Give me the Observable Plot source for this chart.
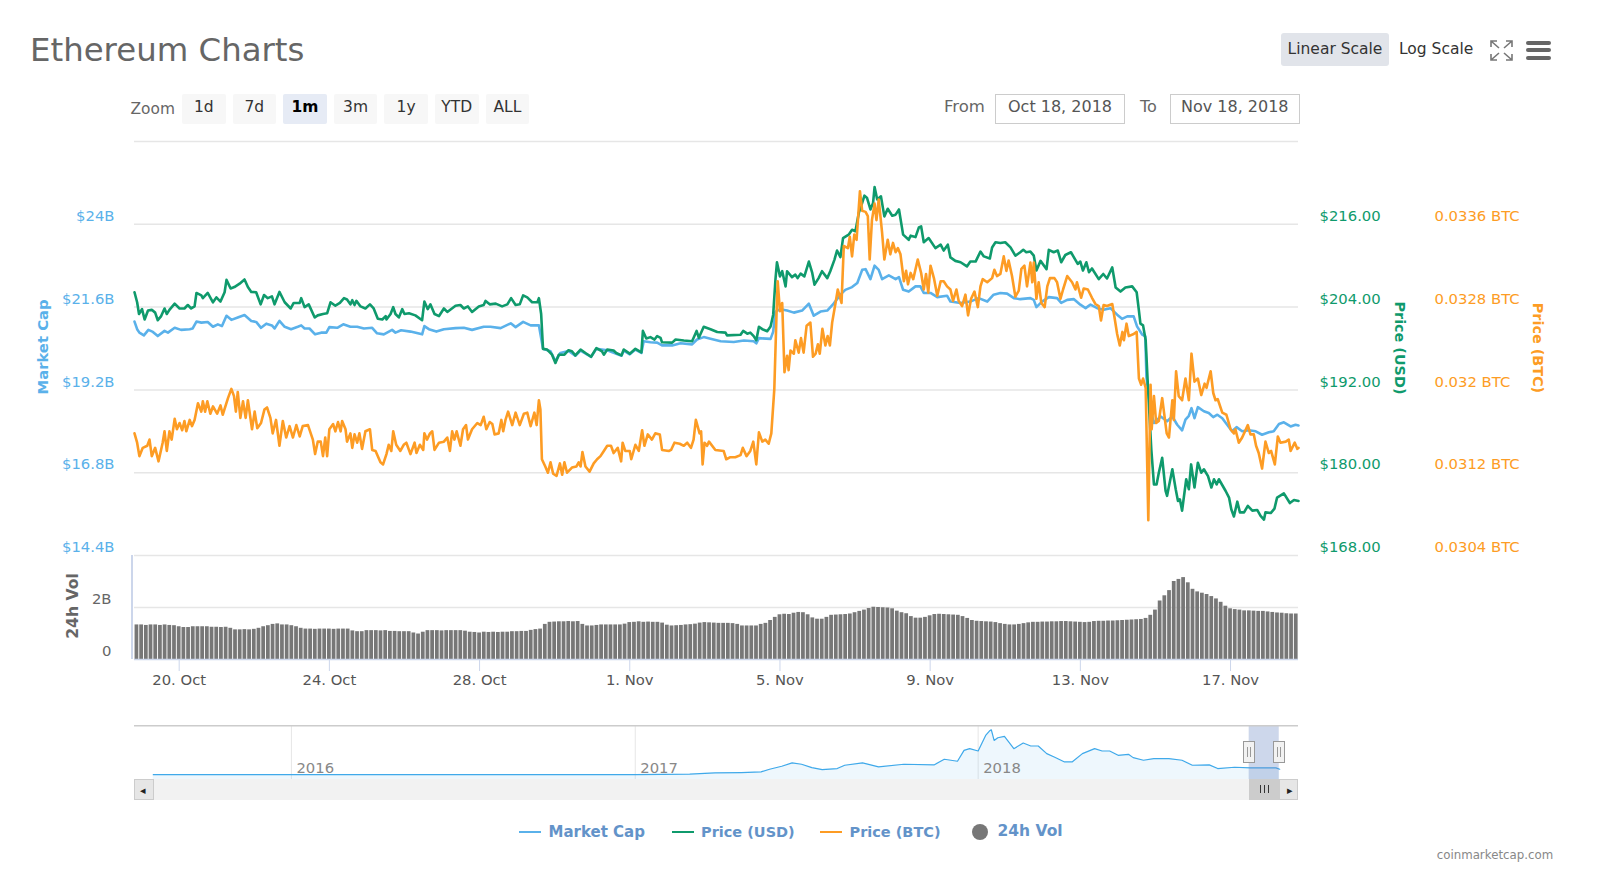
<!DOCTYPE html>
<html><head><meta charset="utf-8">
<script src="https://cdn.jsdelivr.net/npm/d3@7"></script>
<script src="https://cdn.jsdelivr.net/npm/@observablehq/plot@0.6"></script>
<style>
html,body{margin:0;padding:0;background:#fff;width:1600px;height:879px;overflow:hidden;font-family:"DejaVu Sans",sans-serif}
#c{position:relative;width:1600px;height:879px}
#c svg{position:absolute;left:0;top:0;background:transparent;overflow:visible}
.t{position:absolute;white-space:nowrap;line-height:1}
.b{position:absolute;box-sizing:border-box;text-align:center}
.r{position:absolute;box-sizing:border-box}
</style></head><body><div id="c"></div>
<script>
// [days since 18 Oct 2018, value]
const marketCapB=[[.81,21.18],[.88,20.96],[.94,20.86],[1.06,20.78],[1.18,20.94],[1.3,20.88],[1.43,20.76],[1.61,20.91],[1.7,20.86],[1.88,21],[2.05,20.94],[2.28,20.96],[2.36,20.98],[2.46,21.18],[2.59,21.15],[2.76,21.17],[2.9,21.03],[3.03,21.1],[3.14,21.05],[3.26,21.35],[3.39,21.23],[3.56,21.3],[3.74,21.37],[3.92,21.2],[4.05,21.17],[4.18,21],[4.32,21.12],[4.47,21.07],[4.54,20.98],[4.67,21.2],[4.81,21.03],[4.98,20.96],[5.16,21.03],[5.25,21.07],[5.34,20.98],[5.47,20.98],[5.62,20.81],[5.78,20.86],[5.92,20.86],[6,21.02],[6.21,21],[6.37,21.1],[6.56,21.03],[6.74,21.03],[6.92,20.98],[7.14,21],[7.27,20.84],[7.45,20.81],[7.67,20.94],[7.76,20.86],[7.91,20.93],[8.16,20.89],[8.47,20.81],[8.53,21.05],[8.65,20.96],[8.85,20.89],[9.05,20.96],[9.36,20.99],[9.58,21],[9.8,20.94],[10.11,21.03],[10.29,21.03],[10.56,20.99],[10.83,21.13],[10.96,21.02],[11.16,21.17],[11.36,21.07],[11.58,21.07],[11.69,20.39],[11.89,20.32],[12.02,20.03],[12.15,20.27],[12.37,20.33],[12.55,20.19],[12.69,20.34],[12.97,20.16],[13.11,20.39],[13.4,20.35],[13.78,20.19],[13.84,20.34],[14,20.23],[14.15,20.37],[14.31,20.27],[14.37,20.61],[14.55,20.58],[14.73,20.57],[14.86,20.49],[15.13,20.49],[15.35,20.55],[15.66,20.52],[15.79,20.66],[15.97,20.73],[16.15,20.68],[16.42,20.61],[16.77,20.59],[17.04,20.63],[17.3,20.61],[17.37,20.55],[17.44,20.7],[17.75,20.68],[17.82,20.89],[17.88,21.47],[18.01,21.54],[18.19,21.5],[18.37,21.44],[18.59,21.5],[18.77,21.7],[18.9,21.35],[19.08,21.47],[19.26,21.5],[19.43,21.7],[19.61,21.96],[19.74,22.1],[19.92,22.18],[20.06,22.3],[20.19,22.68],[20.28,22.7],[20.41,22.41],[20.52,22.8],[20.63,22.68],[20.72,22.41],[20.9,22.52],[21.08,22.41],[21.17,22.47],[21.28,22.1],[21.43,22.05],[21.61,22.2],[21.74,22.2],[21.83,22.01],[22.01,22.01],[22.19,21.89],[22.45,21.93],[22.54,21.76],[22.81,21.72],[23.07,21.76],[23.29,21.86],[23.52,21.76],[23.69,21.96],[23.87,22.01],[24.05,21.99],[24.23,21.86],[24.4,21.83],[24.67,21.86],[24.76,21.81],[24.83,21.6],[24.98,21.76],[25.16,21.89],[25.38,21.86],[25.49,21.72],[25.65,21.81],[25.83,21.83],[26,21.67],[26.14,21.57],[26.27,21.67],[26.45,21.57],[26.62,21.52],[26.8,21.57],[26.98,21.38],[27.11,21.26],[27.25,21.33],[27.42,21.33],[27.51,21.04],[27.65,20.8],[27.73,20.75],[27.76,19.58],[27.87,18.62],[27.96,18.24],[28.14,18.43],[28.31,18.29],[28.45,18.43],[28.58,18.19],[28.71,18.03],[28.8,18.34],[28.89,18.45],[28.96,18.67],[29.04,18.38],[29.13,18.7],[29.29,18.58],[29.42,18.53],[29.54,18.41],[29.65,18.48],[29.78,18.38],[29.91,18.19],[30.04,18],[30.16,18.12],[30.31,18],[30.49,18.03],[30.67,18],[30.84,17.9],[31.02,17.97],[31.15,18],[31.29,18.21],[31.42,18.26],[31.6,18.14],[31.73,18.19],[31.81,18.17]];
const priceUsd=[[.81,206.15],[.88,204.7],[.93,203],[1.01,203.7],[1.08,202.2],[1.17,203.5],[1.27,203.6],[1.36,203.2],[1.43,202.1],[1.52,202.7],[1.61,203.8],[1.67,203],[1.74,203.6],[1.88,204.5],[2.01,203.8],[2.14,203.8],[2.23,204.3],[2.32,203.8],[2.41,204.1],[2.46,206.05],[2.59,205.7],[2.63,205.3],[2.76,206.05],[2.9,204.7],[2.99,205.4],[3.1,204.8],[3.21,206.15],[3.26,207.95],[3.37,206.7],[3.47,206.9],[3.61,207.4],[3.74,208],[3.83,206.9],[3.92,206.2],[4.05,206.15],[4.17,204.4],[4.26,205.75],[4.36,205.3],[4.47,205.55],[4.54,204.4],[4.67,206.2],[4.81,204.7],[4.97,203.8],[5.05,204.6],[5.21,204.6],[5.25,205.3],[5.34,204],[5.45,204.4],[5.61,202.5],[5.69,202.8],[5.83,203],[5.94,203.1],[6.03,204.7],[6.16,204.2],[6.28,204.6],[6.39,205.3],[6.47,205.1],[6.56,204.4],[6.61,205],[6.67,204.3],[6.72,204.9],[6.83,204.1],[6.96,203.8],[7.08,204.4],[7.18,203.8],[7.29,202.3],[7.41,202.2],[7.5,202.7],[7.52,202.2],[7.63,203],[7.7,204],[7.76,203],[7.85,202.5],[7.94,203.7],[8,203],[8.12,203.1],[8.29,202.8],[8.47,202.1],[8.53,204.8],[8.62,203.7],[8.69,204.4],[8.8,203],[8.92,202.7],[9.05,203.8],[9.14,203.3],[9.36,204.2],[9.49,204.3],[9.58,203.8],[9.69,204.1],[9.8,203.3],[9.98,204.1],[10.11,204.3],[10.16,204.9],[10.27,204.4],[10.43,204.5],[10.6,204.1],[10.74,204.4],[10.84,205.3],[10.96,204.3],[11.07,204.4],[11.16,205.7],[11.27,205.4],[11.4,204.7],[11.54,204.7],[11.58,205.3],[11.64,203],[11.69,197.95],[11.8,197.85],[11.93,197.1],[12.02,195.9],[12.11,197.1],[12.26,197.1],[12.37,197.75],[12.46,197.6],[12.55,197],[12.69,197.85],[12.82,197.35],[12.97,196.8],[13.11,198.05],[13.26,197.6],[13.31,197.1],[13.4,197.85],[13.57,197.7],[13.64,197.35],[13.78,197],[13.84,197.85],[14,197.25],[14.15,197.95],[14.31,197.45],[14.35,200.55],[14.44,199.45],[14.55,199.65],[14.66,199.3],[14.73,199.8],[14.82,199.55],[14.86,198.9],[15.13,198.85],[15.22,199.3],[15.44,199.15],[15.66,199.05],[15.78,200.55],[15.84,199.55],[15.97,201.15],[16.15,200.8],[16.33,200.4],[16.55,200.3],[16.59,199.9],[16.95,200],[17.02,200.55],[17.13,200.15],[17.21,200.3],[17.3,199.8],[17.37,199.2],[17.44,201.15],[17.53,200.8],[17.66,200.5],[17.75,201.2],[17.82,202.9],[17.88,208],[17.92,210.5],[18,208.45],[18.06,209.2],[18.15,207],[18.19,209.2],[18.32,208.35],[18.41,208.7],[18.47,208.2],[18.55,208.85],[18.65,208.45],[18.77,210.6],[18.86,208.95],[18.92,207.25],[19.03,208.2],[19.12,209.2],[19.26,208.2],[19.34,209.2],[19.45,210.85],[19.52,212.2],[19.61,211.25],[19.68,214],[19.83,214.5],[19.92,215.2],[20.01,215],[20.1,217.65],[20.19,219.1],[20.25,220.15],[20.32,219.8],[20.41,218.15],[20.48,219.1],[20.52,221.4],[20.59,219.6],[20.69,220.05],[20.78,217.15],[20.87,218.25],[20.99,217.25],[21.08,217.4],[21.17,218.15],[21.28,214.5],[21.43,213.75],[21.48,214.35],[21.61,214.15],[21.7,215.55],[21.76,215.7],[21.83,213.4],[21.96,214],[22.14,212.55],[22.28,213.05],[22.36,212.2],[22.47,213.05],[22.54,211.2],[22.67,210.7],[22.81,210.5],[22.98,209.9],[23.07,210.6],[23.21,210.6],[23.34,212.05],[23.43,211.35],[23.59,211.05],[23.65,212.65],[23.74,213.4],[23.87,213.3],[24,213.4],[24.14,212.65],[24.27,211.45],[24.4,211.95],[24.48,212.3],[24.56,211.95],[24.67,212.05],[24.76,211.45],[24.83,209.3],[24.94,210.7],[25.1,209.5],[25.16,212.3],[25.29,211.95],[25.4,212.2],[25.49,210.5],[25.6,211.55],[25.75,211.95],[25.93,210.25],[26,210.6],[26.07,209.3],[26.16,210.5],[26.23,209.05],[26.31,209.6],[26.49,208.05],[26.61,208.8],[26.71,208.15],[26.85,209.75],[26.94,206.85],[27.07,206.25],[27.2,206.85],[27.38,207],[27.5,206.15],[27.56,203.5],[27.6,201.6],[27.67,201.35],[27.74,199.2],[27.8,192.5],[27.89,183.35],[27.96,178.3],[28.03,178.3],[28.09,180],[28.18,182.15],[28.27,177.35],[28.31,176.65],[28.45,180.5],[28.54,177.6],[28.6,175.9],[28.65,176.15],[28.71,174.5],[28.82,179.05],[28.89,177.6],[28.95,181.2],[29.04,177.85],[29.13,181.45],[29.22,180],[29.29,180.5],[29.4,179.5],[29.49,177.85],[29.56,179.05],[29.63,178.3],[29.69,179.05],[29.87,177.35],[29.96,176.4],[30.02,174.7],[30.09,173.65],[30.18,175.8],[30.25,174.25],[30.36,174.25],[30.46,175.2],[30.58,174.5],[30.71,174.6],[30.8,173.75],[30.89,173.2],[30.93,174.25],[31.07,174.15],[31.17,174.8],[31.24,176.4],[31.42,177],[31.58,175.6],[31.69,176.05],[31.81,175.9]];
const priceBtc=[[.81,.03158],[.88,.03149],[.94,.03136],[1.03,.03144],[1.15,.03146],[1.21,.03152],[1.27,.03136],[1.36,.03144],[1.45,.03131],[1.56,.03149],[1.61,.0316],[1.67,.03141],[1.74,.0316],[1.8,.03152],[1.88,.03172],[1.94,.03162],[2.01,.03168],[2.08,.03161],[2.14,.0317],[2.19,.0316],[2.28,.03171],[2.34,.03165],[2.41,.03171],[2.5,.03187],[2.59,.03179],[2.63,.03189],[2.69,.03179],[2.75,.03189],[2.83,.03177],[2.9,.03184],[3.01,.03177],[3.1,.03185],[3.16,.03176],[3.3,.03192],[3.39,.03201],[3.46,.03194],[3.51,.03179],[3.56,.03198],[3.63,.03173],[3.7,.03189],[3.77,.03173],[3.83,.0319],[3.94,.03162],[4.01,.03179],[4.08,.03163],[4.18,.03168],[4.27,.03181],[4.34,.03183],[4.43,.03173],[4.49,.03158],[4.58,.03171],[4.67,.03146],[4.76,.0317],[4.85,.03154],[4.94,.03165],[5.03,.03154],[5.12,.03166],[5.21,.03155],[5.29,.03165],[5.43,.03166],[5.56,.03152],[5.62,.03138],[5.69,.0315],[5.77,.0315],[5.83,.03136],[5.89,.03154],[5.94,.03136],[6,.03162],[6.1,.03167],[6.16,.0316],[6.23,.03169],[6.3,.0316],[6.34,.0317],[6.43,.03162],[6.47,.0315],[6.56,.03158],[6.61,.03144],[6.67,.03157],[6.74,.03149],[6.8,.03158],[6.87,.03143],[6.96,.0316],[7.08,.03162],[7.14,.03142],[7.23,.03141],[7.36,.0313],[7.43,.03128],[7.52,.03138],[7.58,.03147],[7.65,.03141],[7.7,.0316],[7.78,.03147],[7.89,.03141],[7.98,.03147],[8.05,.03149],[8.16,.03138],[8.27,.03149],[8.32,.03139],[8.41,.03147],[8.5,.03142],[8.53,.03158],[8.6,.03152],[8.68,.03158],[8.74,.0316],[8.8,.03142],[8.92,.03149],[9.05,.0315],[9.14,.03154],[9.21,.03141],[9.27,.0316],[9.33,.03152],[9.39,.0316],[9.49,.03146],[9.56,.03162],[9.64,.03166],[9.69,.03152],[9.8,.03162],[9.94,.03168],[10.03,.03166],[10.11,.03174],[10.18,.03162],[10.27,.03169],[10.34,.03167],[10.4,.03157],[10.51,.03158],[10.58,.03171],[10.63,.0316],[10.69,.03171],[10.76,.03179],[10.87,.03166],[10.96,.03178],[11.07,.03166],[11.18,.03177],[11.27,.03178],[11.36,.03165],[11.46,.03178],[11.52,.03166],[11.58,.0319],[11.62,.03181],[11.66,.03133],[11.75,.03126],[11.82,.0312],[11.89,.0313],[11.96,.03119],[12.05,.03117],[12.14,.03129],[12.2,.03118],[12.26,.0313],[12.33,.0312],[12.46,.03125],[12.58,.03126],[12.64,.0313],[12.69,.03126],[12.74,.0314],[12.82,.03126],[12.93,.03121],[13.04,.03129],[13.13,.03133],[13.22,.03136],[13.31,.03141],[13.4,.03146],[13.5,.03146],[13.57,.03139],[13.68,.03144],[13.77,.03131],[13.81,.03149],[13.88,.03141],[14,.03141],[14.04,.03133],[14.15,.03147],[14.24,.03141],[14.33,.03161],[14.39,.03146],[14.48,.03157],[14.59,.03152],[14.68,.03158],[14.8,.03157],[14.86,.03142],[15.04,.03141],[15.1,.03142],[15.19,.03149],[15.33,.03148],[15.44,.03146],[15.53,.03149],[15.63,.03144],[15.7,.03152],[15.76,.03171],[15.86,.03158],[15.9,.0316],[15.94,.03128],[15.99,.03149],[16.06,.03146],[16.11,.0315],[16.28,.03142],[16.5,.03141],[16.57,.03133],[16.68,.03135],[16.81,.03135],[16.95,.03137],[17.01,.03144],[17.11,.03136],[17.21,.03141],[17.29,.0315],[17.37,.03128],[17.44,.03159],[17.53,.0315],[17.61,.03152],[17.7,.03148],[17.77,.03158],[17.85,.03201],[17.91,.03275],[17.94,.03305],[18,.03276],[18.06,.03284],[18.12,.03217],[18.19,.03233],[18.23,.03219],[18.28,.03238],[18.37,.03235],[18.41,.03248],[18.5,.03236],[18.56,.0325],[18.63,.03236],[18.71,.03262],[18.81,.03265],[18.88,.03232],[18.95,.03235],[19.01,.03244],[19.06,.03235],[19.13,.03259],[19.21,.03243],[19.27,.03252],[19.33,.03243],[19.39,.03265],[19.48,.03284],[19.54,.03297],[19.64,.03284],[19.7,.03339],[19.81,.03337],[19.86,.03348],[19.92,.03329],[19.98,.0335],[20.04,.03345],[20.13,.03392],[20.19,.03373],[20.28,.03372],[20.34,.03368],[20.39,.03326],[20.45,.03364],[20.52,.0338],[20.57,.03364],[20.63,.03384],[20.72,.03352],[20.78,.03326],[20.87,.03345],[20.94,.03331],[21.01,.03342],[21.08,.03333],[21.14,.03337],[21.21,.03331],[21.3,.03305],[21.36,.03315],[21.41,.03302],[21.48,.03313],[21.55,.03307],[21.67,.03326],[21.76,.03313],[21.83,.03297],[21.89,.03312],[21.95,.03294],[22.01,.0332],[22.1,.03308],[22.19,.03291],[22.28,.03305],[22.36,.03305],[22.45,.033],[22.54,.03297],[22.61,.03286],[22.7,.03297],[22.76,.03286],[22.85,.03281],[22.94,.03292],[23.01,.03272],[23.09,.03288],[23.18,.03295],[23.27,.0328],[23.34,.033],[23.4,.03307],[23.52,.03304],[23.65,.03308],[23.71,.03316],[23.78,.0331],[23.87,.03312],[23.96,.03329],[24.03,.03315],[24.09,.03325],[24.18,.0331],[24.27,.0329],[24.36,.03296],[24.43,.03317],[24.51,.0332],[24.58,.033],[24.67,.03323],[24.72,.03304],[24.76,.03323],[24.83,.03288],[24.89,.03304],[24.96,.03284],[25.05,.0328],[25.12,.033],[25.19,.03308],[25.31,.03308],[25.38,.03304],[25.47,.03288],[25.54,.03297],[25.65,.0331],[25.78,.03304],[25.87,.03297],[25.91,.03304],[26.02,.03289],[26.09,.03298],[26.2,.03297],[26.31,.03289],[26.4,.03283],[26.49,.03281],[26.55,.03267],[26.62,.03282],[26.71,.03281],[26.85,.03283],[26.91,.0327],[26.98,.03254],[27.05,.03243],[27.12,.03256],[27.16,.03248],[27.23,.03264],[27.29,.03252],[27.42,.03254],[27.5,.03256],[27.56,.03211],[27.62,.03205],[27.67,.03211],[27.74,.03202],[27.81,.03074],[27.87,.03205],[27.9,.03162],[27.96,.03194],[28.02,.03168],[28.09,.0317],[28.18,.03192],[28.3,.03158],[28.36,.03154],[28.45,.0319],[28.49,.03171],[28.55,.03218],[28.62,.03194],[28.71,.0319],[28.8,.03211],[28.89,.0319],[28.96,.03235],[29.04,.03208],[29.13,.03211],[29.22,.03195],[29.31,.03206],[29.36,.03202],[29.47,.03218],[29.54,.03197],[29.6,.0319],[29.66,.03191],[29.78,.03178],[29.89,.03176],[30,.03162],[30.09,.03158],[30.13,.03162],[30.22,.03149],[30.31,.03154],[30.46,.03166],[30.53,.03157],[30.62,.03157],[30.68,.03146],[30.75,.03139],[30.84,.03124],[30.93,.0315],[31.02,.03139],[31.08,.03141],[31.18,.03128],[31.26,.03155],[31.33,.03149],[31.47,.0315],[31.55,.03152],[31.6,.03141],[31.71,.03149],[31.78,.03143],[31.81,.03144]];
const volumeB=[1.33,1.33,1.31,1.33,1.33,1.31,1.33,1.31,1.30,1.26,1.23,1.23,1.26,1.26,1.26,1.26,1.24,1.24,1.23,1.24,1.20,1.14,1.14,1.15,1.14,1.16,1.20,1.26,1.30,1.35,1.37,1.33,1.33,1.30,1.26,1.20,1.17,1.17,1.16,1.17,1.17,1.17,1.16,1.17,1.17,1.17,1.10,1.07,1.07,1.11,1.11,1.11,1.10,1.11,1.08,1.08,1.07,1.07,1.07,1.02,0.98,1.05,1.11,1.11,1.11,1.10,1.11,1.11,1.11,1.11,1.09,1.05,1.04,1.02,1.05,1.04,1.05,1.04,1.05,1.05,1.07,1.07,1.08,1.08,1.12,1.15,1.17,1.35,1.43,1.44,1.45,1.45,1.46,1.45,1.46,1.35,1.29,1.29,1.31,1.33,1.33,1.33,1.33,1.33,1.36,1.42,1.43,1.45,1.43,1.44,1.43,1.43,1.40,1.32,1.29,1.30,1.31,1.33,1.34,1.36,1.40,1.42,1.41,1.40,1.39,1.39,1.39,1.38,1.35,1.29,1.29,1.29,1.29,1.35,1.39,1.50,1.62,1.72,1.74,1.73,1.78,
1.81,1.80,1.72,1.60,1.55,1.55,1.62,1.70,1.71,1.72,1.73,1.75,1.80,1.85,1.90,1.96,2.01,2.00,1.99,1.98,1.95,1.86,1.80,1.76,1.65,1.59,1.59,1.62,1.68,1.73,1.74,1.73,1.72,1.71,1.70,1.65,1.58,1.50,1.47,1.46,1.45,1.44,1.42,1.38,1.35,1.33,1.33,1.35,1.38,1.41,1.43,1.43,1.44,1.44,1.45,1.45,1.46,1.46,1.45,1.44,1.43,1.42,1.43,1.46,1.47,1.47,1.48,1.48,1.49,1.50,1.51,1.52,1.53,1.54,1.58,1.70,1.90,2.25,2.45,2.65,3.0,3.08,3.15,2.95,2.70,2.60,2.55,2.50,2.42,2.33,2.20,2.05,1.95,1.92,1.90,1.87,1.87,1.86,1.85,1.85,1.83,1.81,1.79,1.78,1.76,1.75,1.75];
const navigatorB=[["2015-08-07",.5],["2016-01-01",.6],["2016-06-15",1],["2017-01-01",.8],["2017-02-28",2],["2017-03-27",6],["2017-04-24",7],["2017-05-15",9],["2017-05-24",17],["2017-06-06",26],["2017-06-17",36],["2017-06-27",32],["2017-07-08",22],["2017-07-19",16],["2017-08-04",19],["2017-08-12",29],["2017-08-31",36],["2017-09-17",24],["2017-10-14",32],["2017-11-15",30],["2017-11-26",47],["2017-12-10",41],["2017-12-17",74],["2017-12-23",79],["2018-01-01",72],["2018-01-09",119],["2018-01-13",132],["2018-01-15",136],["2018-01-18",104],["2018-01-22",112],["2018-01-29",116],["2018-02-08",79],["2018-02-18",96],["2018-02-26",87],["2018-03-06",87],["2018-03-15",64],["2018-03-23",54],["2018-04-03",39],["2018-04-11",39],["2018-04-22",64],["2018-05-05",79],["2018-05-13",72],["2018-05-21",72],["2018-05-30",59],["2018-06-10",62],["2018-06-15",52],["2018-06-26",44],["2018-07-07",49],["2018-07-23",49],["2018-08-06",44],["2018-08-17",29],["2018-09-04",30],["2018-09-13",19],["2018-10-01",23],["2018-10-18",21],["2018-11-14",21],["2018-11-18",17]];
const capTicks=[14.4,16.8,19.2,21.6,24,26.4];
const usdTicks=[168,180,192,204,216];
const btcTicks=[.0304,.0312,.032,.0328,.0336];
const btcLabels=["0.0304 BTC","0.0312 BTC","0.032 BTC","0.0328 BTC","0.0336 BTC"];
const dateTicks=["2018-10-20","2018-10-24","2018-10-28","2018-11-01","2018-11-05","2018-11-09","2018-11-13","2018-11-17"];
const dateLabels=["20. Oct","24. Oct","28. Oct","1. Nov","5. Nov","9. Nov","13. Nov","17. Nov"];
const years=["2016","2017","2018"];
const zoomLabels=["1d","7d","1m","3m","1y","YTD","ALL"];

const C={cap:"#5ab1ea",usd:"#0f9a6c",btc:"#fd9c24",grid:"#e6e6e6",axis:"#ccd6eb"};
const FONT='"DejaVu Sans",sans-serif', FS=14.8;
const when=d=>new Date(Date.UTC(2018,9,18)+d*864e5);
const xd=[when(.81),when(31.81)];
const rows=a=>a.map(([d,v])=>({t:when(d),v}));
const root=document.getElementById("c");
const base={width:1600,marginLeft:134,marginRight:302,marginTop:141,marginBottom:40,height:595,style:{fontFamily:FONT,fontSize:FS+"px"},
  x:{type:"utc",domain:xd,axis:null}};
function line(data,color,domain,extra){
  return Plot.plot({...base,y:{domain,axis:null},marks:[...(extra||[]),
    Plot.line(rows(data),{x:"t",y:"v",stroke:color,strokeWidth:2.6,strokeLinejoin:"round"})]});
}
root.append(line(marketCapB,C.cap,[14.4,26.4],[
  Plot.ruleY(capTicks,{stroke:C.grid,strokeWidth:1.5}),
  Plot.axisY({ticks:capTicks.slice(0,5),tickFormat:d=>"$"+d+"B",anchor:"left",tickSize:0,tickPadding:20,dy:-8,label:null,fill:C.cap,fontSize:FS})]));
root.append(line(priceUsd,C.usd,[168,228],[
  Plot.axisY({ticks:usdTicks,tickFormat:d=>"$"+d.toFixed(2),anchor:"right",tickSize:0,tickPadding:21,dy:-8,label:null,fill:C.usd,fontSize:FS})]));
root.append(line(priceBtc,C.btc,[.0304,.0344],[
  Plot.axisY({ticks:btcTicks,tickFormat:d=>btcLabels[btcTicks.indexOf(d)],anchor:"right",dx:136,tickSize:0,tickPadding:0,dy:-8,label:null,fill:C.btc,fontSize:FS})]));

// volume panel: one bar every three hours
const volRows=volumeB.map((v,i)=>({t1:when(.875+i*.125-.05),t2:when(.875+i*.125+.05),v})).filter(d=>d.t2<=xd[1]);
const tickDates=dateTicks.map(s=>new Date(s+"T00:00:00Z"));
root.append(Plot.plot({width:1600,marginLeft:134,marginRight:302,marginTop:555,marginBottom:41,height:700,
  style:{fontFamily:FONT,fontSize:FS+"px"},
  x:{type:"utc",domain:xd,axis:null},y:{domain:[0,4],axis:null},
  marks:[
   Plot.ruleY([2],{stroke:C.grid,strokeWidth:1.5}),
   Plot.rectY(volRows,{x1:"t1",x2:"t2",y:"v",fill:"#777"}),
   Plot.ruleY([0],{stroke:C.axis,strokeWidth:1.5}),
   Plot.axisY({ticks:[0,2],tickFormat:d=>d?d+"B":"0",anchor:"left",tickSize:0,tickPadding:23,dy:-8,label:null,fill:"#666",fontSize:FS}),
   Plot.axisX({ticks:tickDates,tickFormat:d=>dateLabels[tickDates.findIndex(t=>+t==+d)],anchor:"bottom",tickSize:12,tickPadding:2.5,stroke:C.axis,fill:"#555",label:null,fontSize:FS})
  ]}));

// navigator
const navRows=navigatorB.map(([s,v])=>({t:new Date(s+"T00:00:00Z"),v}));
const navX=[new Date("2015-07-18T00:00:00Z"),new Date("2018-12-08T00:00:00Z")];
root.append(Plot.plot({width:1600,marginLeft:134,marginRight:302,marginTop:725.3,marginBottom:20,height:799,
  style:{fontFamily:FONT,fontSize:FS+"px"},
  x:{type:"utc",domain:navX,axis:null},y:{domain:[-14,148],axis:null},
  marks:[
   Plot.ruleX(years,{x:d=>new Date(d+"-01-01T00:00:00Z"),stroke:C.grid}),
   Plot.areaY(navRows,{x:"t",y1:-14,y2:"v",fill:C.cap,fillOpacity:.1}),
   Plot.line(navRows,{x:"t",y:"v",stroke:"#3fa9ea",strokeWidth:1.2}),
   Plot.text(years,{x:d=>new Date(d+"-01-01T00:00:00Z"),y:19,text:d=>d,dx:5,textAnchor:"start",fill:"#888",fontSize:FS}),
   Plot.rect([["2018-10-16T12:00:00Z","2018-11-17T12:00:00Z"]],{x1:d=>new Date(d[0]),x2:d=>new Date(d[1]),y1:-14,y2:148,fill:"rgb(102,133,194)",fillOpacity:.33}),
   Plot.ruleY([148],{stroke:"#ccc",strokeWidth:1.5})
  ]}));

// HTML furniture
function txt(s,x,y,o={}){const e=document.createElement("div");e.className="t";e.textContent=s;
  Object.assign(e.style,{left:x+"px",top:y+"px",fontSize:(o.fs||FS)+"px",color:o.c||"#444",fontWeight:o.w||400,transform:o.tf||"translateY(-50%)"});root.append(e);return e;}
function box(x,y,w,h,st={}){const e=document.createElement("div");e.className="r";Object.assign(e.style,{left:x+"px",top:y+"px",width:w+"px",height:h+"px"},st);root.append(e);return e;}
txt("Ethereum Charts",30,49.5,{fs:32.4,c:"#666"});
txt("Zoom",130.5,110,{c:"#666",fs:15.4});
zoomLabels.forEach((s,i)=>{const on=s==="1m";const b=box(182+i*50.6,94,43.5,30,{background:on?"#e6ebf5":"#f7f7f7",borderRadius:"2px"});
  b.className="b";b.textContent=s;Object.assign(b.style,{fontSize:"15.5px",lineHeight:"27px",color:on?"#000":"#333",fontWeight:on?700:400});});
txt("From",944,107,{c:"#666",fs:16.5});
txt("To",1140,107,{c:"#666",fs:16});
[[995,130,"Oct 18, 2018"],[1170,129.5,"Nov 18, 2018"]].forEach(([x,w,s])=>{const b=box(x,94,w,30,{border:"1.5px solid #ccc"});b.className="b";b.textContent=s;
  Object.assign(b.style,{fontSize:"16px",lineHeight:"24px",color:"#555"});});
const ls=box(1281,33,108,33,{background:"#e1e4ea",borderRadius:"3px"});ls.className="b";ls.textContent="Linear Scale";Object.assign(ls.style,{fontSize:"15.5px",lineHeight:"33px",color:"#333"});
txt("Log Scale",1399,50,{c:"#333",fs:15.5});
// fullscreen icon
const ns="http://www.w3.org/2000/svg";
const fs=document.createElementNS(ns,"svg");fs.setAttribute("width",1600);fs.setAttribute("height",879);
[[1491,41,1,1],[1512,41,-1,1],[1491,60,1,-1],[1512,60,-1,-1]].forEach(([x,y,sx,sy])=>{
  const p=document.createElementNS(ns,"path");
  p.setAttribute("d",`M${x} ${y+6*sy}V${y}H${x+6*sx}M${x} ${y}L${x+8*sx} ${y+7*sy}`);
  p.setAttribute("fill","none");p.setAttribute("stroke","#777");p.setAttribute("stroke-width","1.6");fs.append(p);});
root.append(fs);
[41,48,56].forEach(y=>box(1526,y,24.5,4.2,{background:"#666",borderRadius:"2px"}));
// axis titles
const rot=(s,x,y,c,a,size)=>txt(s,x,y,{c,w:700,fs:size,tf:`translate(-50%,-50%) rotate(${a}deg)`});
rot("Market Cap",43,347,C.cap,-90,14.8);
rot("Price (USD)",1400,348,C.usd,90,14.4);
rot("Price (BTC)",1538,348,C.btc,90,14.4);
rot("24h Vol",74,606,"#666",-90,15.6);
box(131,555,1.5,104,{background:C.axis});
// scrollbar
box(134,779,1164,21,{background:"#f2f2f2"});
box(134,779,19.5,21,{background:"#e6e6e6",border:"1px solid #ccc"});
box(1249,779,30,21,{background:"#ccc"});
box(1278.6,779,19.4,21,{background:"#e6e6e6",border:"1px solid #ccc"});
txt("◂",140,790,{fs:11,c:"#222"});
txt("▸",1287,790,{fs:11,c:"#222"});
[1260,1264,1268].forEach(x=>box(x,785,1.2,8,{background:"#333"}));
[1249,1278.6].forEach(x=>{box(x-6,741,12,22,{background:"#f2f2f2",border:"1.3px solid #999"});
  box(x-2,747,1,10,{background:"#999"});box(x+1,747,1,10,{background:"#999"});});
// legend
const LEG="#6393c9";
[[519,C.cap,"Market Cap",548.5,15],[672.4,C.usd,"Price (USD)",701,14.5],[820,C.btc,"Price (BTC)",849.5,14.5]].forEach(([x,c,s,tx,size])=>{
  box(x,830.5,21.5,2.6,{background:c});txt(s,tx,832,{c:LEG,w:700,fs:size});});
box(971.5,823.5,16,16,{background:"#777",borderRadius:"50%"});
txt("24h Vol",997.5,832,{c:LEG,w:700,fs:15.5});
txt("coinmarketcap.com",1436.7,856,{c:"#888",fs:11.8});
</script></body></html>
